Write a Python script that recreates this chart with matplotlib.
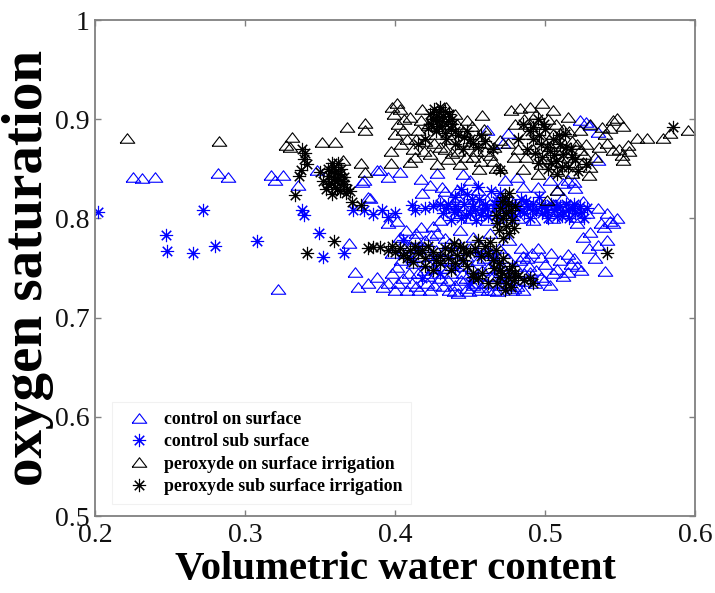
import matplotlib
matplotlib.use("Agg")
import matplotlib.pyplot as plt

# ---------------- data ----------------
x_ticks = [0.2, 0.3, 0.4, 0.5, 0.6]
x_tick_labels = ['0.2', '0.3', '0.4', '0.5', '0.6']
y_ticks = [0.5, 0.6, 0.7, 0.8, 0.9, 1.0]
y_tick_labels = ['0.5', '0.6', '0.7', '0.8', '0.9', '1']

series_labels = ['control on surface', 'control sub surface',
                 'peroxyde on surface irrigation', 'peroxyde sub surface irrigation']

control_surface = [
    (0.225,0.842),(0.231,0.841),(0.240,0.842),(0.282,0.846),(0.289,0.842),
    (0.317,0.844),(0.320,0.839),(0.325,0.844),(0.335,0.834),(0.348,0.849),
    (0.322,0.729),(0.369,0.775),(0.373,0.746),(0.375,0.731),(0.382,0.735),
    (0.388,0.741),(0.392,0.731),(0.378,0.837),(0.382,0.822),(0.388,0.849),
    (0.379,0.839),(0.383,0.821),
    (0.390,0.849),(0.403,0.847),(0.395,0.842),(0.417,0.840),(0.423,0.834),
    (0.428,0.846),(0.431,0.832),(0.441,0.829),(0.441,0.822),(0.450,0.839),
    (0.455,0.829),(0.445,0.845),(0.433,0.828),(0.418,0.826),(0.430,0.819),
    (0.473,0.839),(0.481,0.842),(0.485,0.832),(0.495,0.832),(0.503,0.839),
    (0.508,0.829),(0.512,0.836),(0.461,0.819),(0.477,0.819),(0.470,0.822),
    (0.461,0.889),(0.475,0.886),(0.472,0.876),(0.523,0.899),(0.530,0.894),
    (0.535,0.887),(0.527,0.897),(0.535,0.859),(0.519,0.837),(0.520,0.831),
    (0.515,0.839),
    (0.430,0.798),(0.461,0.798),(0.492,0.798),(0.521,0.801),(0.528,0.805),
    (0.537,0.795),(0.545,0.795),(0.539,0.791),(0.525,0.781),(0.521,0.795),
    (0.530,0.786),(0.543,0.797),(0.515,0.812),(0.505,0.815),(0.498,0.808),
    (0.485,0.815),(0.470,0.812),(0.455,0.815),(0.445,0.808),(0.438,0.815),
    (0.512,0.822),(0.525,0.818),(0.535,0.810),(0.548,0.800),(0.541,0.805),
    (0.505,0.800),(0.482,0.800),(0.450,0.800),
    (0.395,0.795),(0.401,0.797),(0.403,0.781),(0.410,0.771),(0.417,0.791),
    (0.401,0.751),(0.421,0.735),(0.398,0.765),(0.405,0.740),(0.408,0.728),
    (0.412,0.755),(0.415,0.745),(0.418,0.762),(0.420,0.778),(0.423,0.728),
    (0.425,0.750),(0.427,0.768),(0.428,0.785),(0.430,0.740),(0.432,0.732),
    (0.434,0.758),(0.436,0.775),(0.437,0.745),(0.439,0.727),(0.441,0.765),
    (0.443,0.788),(0.444,0.738),(0.446,0.752),(0.448,0.730),(0.450,0.770),
    (0.452,0.781),(0.453,0.742),(0.455,0.758),(0.456,0.728),(0.458,0.748),
    (0.460,0.735),(0.461,0.768),(0.463,0.785),(0.465,0.742),(0.466,0.728),
    (0.468,0.755),(0.470,0.733),(0.472,0.765),(0.474,0.745),(0.476,0.778),
    (0.478,0.728),(0.480,0.752),(0.482,0.738),(0.484,0.770),(0.486,0.745),
    (0.488,0.760),(0.490,0.746),(0.493,0.735),(0.442,0.725),(0.457,0.731),
    (0.479,0.730),(0.485,0.762),(0.497,0.761),(0.500,0.754),(0.508,0.749),
    (0.515,0.764),(0.517,0.754),(0.515,0.746),(0.521,0.752),(0.535,0.773),
    (0.503,0.733),(0.497,0.741),(0.407,0.788),(0.413,0.780),(0.425,0.792),
    (0.433,0.780),(0.414,0.732),(0.419,0.748),(0.429,0.758),(0.447,0.740),
    (0.462,0.750),(0.395,0.735),(0.400,0.728),
    (0.404,0.758),(0.409,0.745),(0.411,0.735),(0.416,0.728),(0.419,0.771),
    (0.422,0.742),(0.424,0.783),(0.426,0.733),(0.431,0.750),(0.433,0.768),
    (0.435,0.738),(0.438,0.757),(0.440,0.733),(0.442,0.775),(0.445,0.745),
    (0.447,0.762),(0.449,0.727),(0.451,0.750),(0.454,0.735),(0.457,0.772),
    (0.459,0.760),(0.462,0.728),(0.464,0.765),(0.467,0.740),(0.469,0.770),
    (0.471,0.752),(0.473,0.735),(0.475,0.760),(0.477,0.745),(0.481,0.732),
    (0.483,0.758),(0.487,0.737),(0.489,0.752),(0.491,0.765),(0.494,0.748),
    (0.499,0.738),(0.505,0.745),(0.510,0.758),(0.512,0.742),(0.519,0.760),
    (0.524,0.748),(0.529,0.770),(0.533,0.760),(0.541,0.778),(0.398,0.745),
    (0.402,0.735),(0.406,0.770),(0.414,0.785),(0.421,0.756),(0.427,0.745),
    (0.436,0.728),(0.452,0.733),(0.463,0.742),(0.468,0.727),(0.476,0.733),
    (0.485,0.728),(0.495,0.770),(0.504,0.765),(0.540,0.747),
]

control_sub = [
    (0.202,0.806),(0.247,0.783),(0.248,0.767),(0.265,0.765),(0.272,0.808),
    (0.280,0.772),(0.308,0.777),(0.338,0.808),(0.339,0.803),(0.349,0.785),
    (0.352,0.761),(0.366,0.765),(0.372,0.808),(0.379,0.808),(0.385,0.804),
    (0.391,0.808),(0.395,0.801),(0.411,0.814),(0.420,0.810),(0.425,0.812),
    (0.432,0.805),(0.435,0.815),(0.437,0.798),(0.440,0.822),(0.442,0.808),
    (0.444,0.800),(0.446,0.815),(0.448,0.825),(0.450,0.805),(0.452,0.812),
    (0.454,0.798),(0.456,0.820),(0.458,0.808),(0.460,0.815),(0.462,0.802),
    (0.464,0.828),(0.466,0.810),(0.468,0.818),(0.470,0.800),(0.472,0.812),
    (0.475,0.806),(0.478,0.815),(0.480,0.802),(0.482,0.810),(0.484,0.820),
    (0.486,0.805),(0.488,0.812),(0.490,0.800),(0.492,0.815),(0.494,0.808),
    (0.496,0.822),(0.498,0.805),(0.500,0.812),(0.502,0.800),(0.504,0.815),
    (0.506,0.808),(0.508,0.802),(0.510,0.812),(0.512,0.806),(0.514,0.815),
    (0.516,0.800),(0.518,0.810),(0.520,0.805),(0.523,0.812),(0.526,0.800),
    (0.444,0.830),(0.455,0.832),(0.470,0.826),
    (0.405,0.778),(0.415,0.770),(0.425,0.760),(0.440,0.750),(0.455,0.765),
    (0.430,0.745),(0.418,0.740),(0.450,0.735),(0.465,0.760),(0.410,0.760),
    (0.434,0.810),(0.439,0.806),(0.447,0.803),(0.451,0.820),(0.457,0.803),
    (0.461,0.810),(0.467,0.815),(0.473,0.818),(0.477,0.803),(0.483,0.807),
    (0.487,0.818),(0.491,0.808),(0.497,0.812),(0.501,0.806),(0.507,0.812),
    (0.511,0.802),(0.515,0.808),(0.519,0.815),(0.524,0.806),(0.528,0.810),
    (0.440,0.812),(0.453,0.808),(0.430,0.815),(0.413,0.808),(0.400,0.805),
]

peroxyde_surface = [
    (0.221,0.881),(0.283,0.878),(0.327,0.874),(0.331,0.882),(0.330,0.872),
    (0.351,0.877),(0.360,0.877),(0.368,0.892),(0.380,0.896),(0.380,0.889),
    (0.365,0.859),(0.377,0.856),(0.380,0.847),(0.397,0.856),(0.410,0.857),
    (0.401,0.916),(0.403,0.910),(0.399,0.905),(0.402,0.895),(0.400,0.885),
    (0.404,0.875),(0.397,0.868),(0.408,0.880),(0.412,0.870),(0.415,0.889),
    (0.417,0.899),(0.418,0.910),(0.420,0.878),(0.423,0.865),(0.425,0.905),
    (0.427,0.885),(0.430,0.872),(0.432,0.895),(0.435,0.860),(0.437,0.880),
    (0.440,0.905),(0.442,0.868),(0.445,0.888),(0.448,0.899),(0.450,0.875),
    (0.452,0.862),(0.455,0.880),(0.458,0.904),(0.460,0.868),(0.462,0.876),
    (0.465,0.858),(0.467,0.851),(0.470,0.879),(0.456,0.850),(0.443,0.855),
    (0.428,0.855),(0.413,0.862),(0.406,0.900),(0.434,0.912),(0.446,0.878),
    (0.477,0.909),(0.483,0.911),(0.490,0.912),(0.498,0.916),(0.505,0.909),
    (0.515,0.902),(0.523,0.889),(0.530,0.895),(0.538,0.892),(0.545,0.899),
    (0.548,0.901),(0.541,0.876),(0.545,0.869),(0.551,0.864),(0.552,0.859),
    (0.555,0.874),(0.561,0.881),(0.568,0.881),(0.579,0.881),(0.583,0.886),
    (0.595,0.889),(0.523,0.869),(0.525,0.857),(0.529,0.844),(0.515,0.862),
    (0.508,0.876),(0.479,0.862),(0.475,0.876),(0.480,0.895),(0.486,0.900),
    (0.488,0.885),(0.492,0.870),(0.495,0.895),(0.498,0.880),(0.500,0.860),
    (0.502,0.900),(0.505,0.885),(0.510,0.870),(0.512,0.890),(0.518,0.878),
    (0.520,0.855),(0.485,0.850),(0.495,0.845),(0.508,0.848),(0.518,0.846),
    (0.470,0.851),(0.508,0.829),(0.501,0.819),(0.527,0.875),(0.533,0.862),
    (0.552,0.893),(0.540,0.885),
    (0.398,0.912),(0.405,0.889),(0.410,0.902),(0.414,0.880),(0.419,0.868),
    (0.422,0.894),(0.426,0.876),(0.433,0.870),(0.438,0.866),(0.441,0.895),
    (0.447,0.862),(0.451,0.893),(0.454,0.868),(0.457,0.858),(0.459,0.890),
    (0.463,0.864),(0.466,0.872),(0.482,0.870),(0.487,0.862),(0.490,0.895),
    (0.494,0.905),(0.497,0.855),(0.503,0.873),(0.507,0.895),(0.511,0.858),
    (0.516,0.888),(0.521,0.875),(0.526,0.865),(0.530,0.852),(0.536,0.872),
    (0.543,0.891),(0.549,0.870),(0.556,0.868),
]

peroxyde_sub = [
    (0.340,0.866),(0.339,0.860),(0.337,0.849),(0.336,0.843),(0.333,0.824),
    (0.350,0.847),(0.341,0.855),(0.338,0.870),
    (0.355,0.850),(0.358,0.856),(0.360,0.846),(0.362,0.840),(0.357,0.836),
    (0.360,0.832),(0.363,0.828),(0.366,0.835),(0.354,0.830),(0.358,0.825),
    (0.364,0.850),(0.362,0.856),(0.368,0.830),(0.352,0.838),(0.366,0.842),
    (0.370,0.828),(0.356,0.843),(0.361,0.838),
    (0.357,0.848),(0.359,0.840),(0.363,0.845),(0.361,0.830),(0.365,0.838),
    (0.355,0.835),(0.359,0.852),(0.367,0.826),
    (0.371,0.817),(0.377,0.814),(0.359,0.777),(0.341,0.765),(0.385,0.771),
    (0.390,0.771),(0.395,0.768),
    (0.405,0.763),(0.410,0.768),(0.415,0.765),(0.420,0.760),(0.425,0.766),
    (0.430,0.762),(0.437,0.768),(0.439,0.775),(0.445,0.770),(0.450,0.766),
    (0.455,0.778),(0.460,0.772),(0.463,0.776),(0.465,0.758),(0.470,0.748),
    (0.475,0.741),(0.477,0.731),(0.452,0.745),(0.448,0.752),(0.437,0.748),
    (0.430,0.755),(0.420,0.752),(0.412,0.756),(0.490,0.740),(0.492,0.735),
    (0.541,0.765),(0.470,0.741),(0.452,0.741),(0.468,0.735),(0.473,0.728),
    (0.480,0.745),(0.478,0.752),(0.472,0.760),(0.467,0.768),(0.458,0.745),
    (0.445,0.758),
    (0.400,0.766),(0.403,0.770),(0.408,0.760),(0.413,0.772),(0.418,0.768),
    (0.422,0.772),(0.427,0.758),(0.433,0.770),(0.435,0.760),(0.441,0.763),
    (0.443,0.772),(0.447,0.765),(0.453,0.770),(0.457,0.762),(0.462,0.765),
    (0.466,0.750),(0.469,0.755),(0.471,0.745),(0.474,0.735),(0.476,0.748),
    (0.479,0.738),(0.482,0.742),(0.486,0.738),(0.462,0.735),(0.455,0.740),
    (0.440,0.755),(0.425,0.748),(0.382,0.770),(0.398,0.772),
    (0.473,0.822),(0.475,0.815),(0.470,0.810),(0.477,0.808),(0.472,0.800),
    (0.478,0.798),(0.474,0.792),(0.469,0.788),(0.476,0.785),(0.471,0.818),
    (0.480,0.812),(0.467,0.803),(0.474,0.805),(0.479,0.790),(0.468,0.795),
    (0.476,0.826),(0.472,0.780),
    (0.423,0.905),(0.426,0.910),(0.429,0.907),(0.432,0.903),(0.428,0.898),
    (0.424,0.895),(0.431,0.893),(0.435,0.898),(0.437,0.890),(0.427,0.888),
    (0.433,0.886),(0.430,0.912),(0.425,0.900),(0.436,0.905),(0.422,0.891),
    (0.438,0.895),(0.434,0.880),(0.440,0.875),(0.445,0.870),(0.450,0.880),
    (0.455,0.872),(0.448,0.888),(0.460,0.878),(0.442,0.884),(0.420,0.880),
    (0.415,0.875),(0.465,0.870),
    (0.427,0.902),(0.431,0.898),(0.429,0.893),(0.433,0.908),(0.438,0.900),
    (0.440,0.888),(0.446,0.882),(0.452,0.876),(0.457,0.884),
    (0.485,0.895),(0.490,0.888),(0.495,0.900),(0.492,0.880),(0.497,0.875),
    (0.500,0.890),(0.503,0.868),(0.498,0.862),(0.505,0.880),(0.507,0.858),
    (0.510,0.875),(0.512,0.865),(0.515,0.852),(0.517,0.870),(0.508,0.845),
    (0.502,0.850),(0.495,0.856),(0.488,0.870),(0.520,0.860),(0.522,0.848),
    (0.513,0.885),(0.482,0.880),(0.493,0.866),(0.470,0.849),(0.585,0.892),
    (0.527,0.855),
    (0.496,0.884),(0.501,0.872),(0.506,0.864),(0.509,0.884),(0.511,0.852),
    (0.504,0.856),(0.499,0.895),(0.514,0.872),(0.518,0.862),(0.492,0.892),
]

# ---------------- style ----------------
serif = ['Liberation Serif', 'DejaVu Serif']
plt.rcParams['font.family'] = serif

W, H, DPI = 715, 593, 100
fig = plt.figure(figsize=(W / DPI, H / DPI), dpi=DPI)
ax = fig.add_axes([95 / W, 77 / H, 600 / W, 496 / H])

tri = [(-1.0, -0.65), (1.0, -0.65), (0.0, 0.65), (-1.0, -0.65)]
star = (8, 2, 0)
tri_ms, star_ms, mew = 10.5, 9.5, 0.8

styles = [
    dict(marker=tri, ms=tri_ms, mec='#0000ff'),
    dict(marker=star, ms=star_ms, mec='#0000ff'),
    dict(marker=tri, ms=tri_ms, mec='#000000'),
    dict(marker=star, ms=star_ms, mec='#000000'),
]
all_series = [control_surface, control_sub, peroxyde_surface, peroxyde_sub]
handles = []
for pts, st, lab in zip(all_series, styles, series_labels):
    xs = [p[0] for p in pts]
    ys = [p[1] for p in pts]
    h, = ax.plot(xs, ys, ls='none', marker=st['marker'], ms=st['ms'],
                 mfc='none', mec=st['mec'], mew=mew, label=lab)
    handles.append(h)

ax.set_xlim(0.2, 0.6)
ax.set_ylim(0.5, 1.0)
ax.set_xticks(x_ticks)
ax.set_xticklabels(x_tick_labels)
ax.set_yticks(y_ticks)
ax.set_yticklabels(y_tick_labels)

spine_c = '#808080'
for s in ax.spines.values():
    s.set_color(spine_c)
    s.set_linewidth(1.3)
ax.tick_params(direction='in', length=4, width=1.0, color=spine_c,
               top=True, right=True, labelsize=20, labelcolor='#111111')
ax.tick_params(axis='x', pad=5)
ax.tick_params(axis='y', pad=4)

xl = ax.set_xlabel('Volumetric water content', fontweight='bold', fontsize=30)
yl = ax.set_ylabel('oxygen saturation', fontweight='bold', fontsize=30)
xl.set_va('center')
yl.set_va('center')
ax.xaxis.set_label_coords(0.5, (516 - 570) / 496)

# fit label sizes to the lengths seen in the picture, keep the y label clear of tick labels
fig.canvas.draw()
r = fig.canvas.get_renderer()
bx = xl.get_window_extent(r)
xl.set_fontsize(30 * 441 / bx.width)
by = yl.get_window_extent(r)
fs_y = 30 * 462 / by.height
yl.set_fontsize(fs_y)
fig.canvas.draw()
tick_left = min(t.get_window_extent(r).x0 for t in ax.get_yticklabels() if t.get_text())
by = yl.get_window_extent(r)
avail = tick_left - 2
if by.width > avail:
    fs_y *= avail / by.width
    yl.set_fontsize(fs_y)
    fig.canvas.draw()
    by = yl.get_window_extent(r)
cx = tick_left - 1 - by.width / 2
ax.yaxis.set_label_coords((cx - 95) / 600, 0.5)

leg = ax.legend(handles=handles, loc='upper left',
                bbox_to_anchor=(112 / W, 1 - 402 / H), bbox_transform=fig.transFigure,
                borderaxespad=0, frameon=True, fancybox=False,
                prop=dict(family=serif, weight='bold', size=12.8),
                handlelength=2.0, handletextpad=0.4, labelspacing=0.3,
                borderpad=0.5, numpoints=1)
leg.get_frame().set_edgecolor('#eeeeee')
leg.get_frame().set_linewidth(0.8)

fig.savefig('out.png', dpi=DPI)
